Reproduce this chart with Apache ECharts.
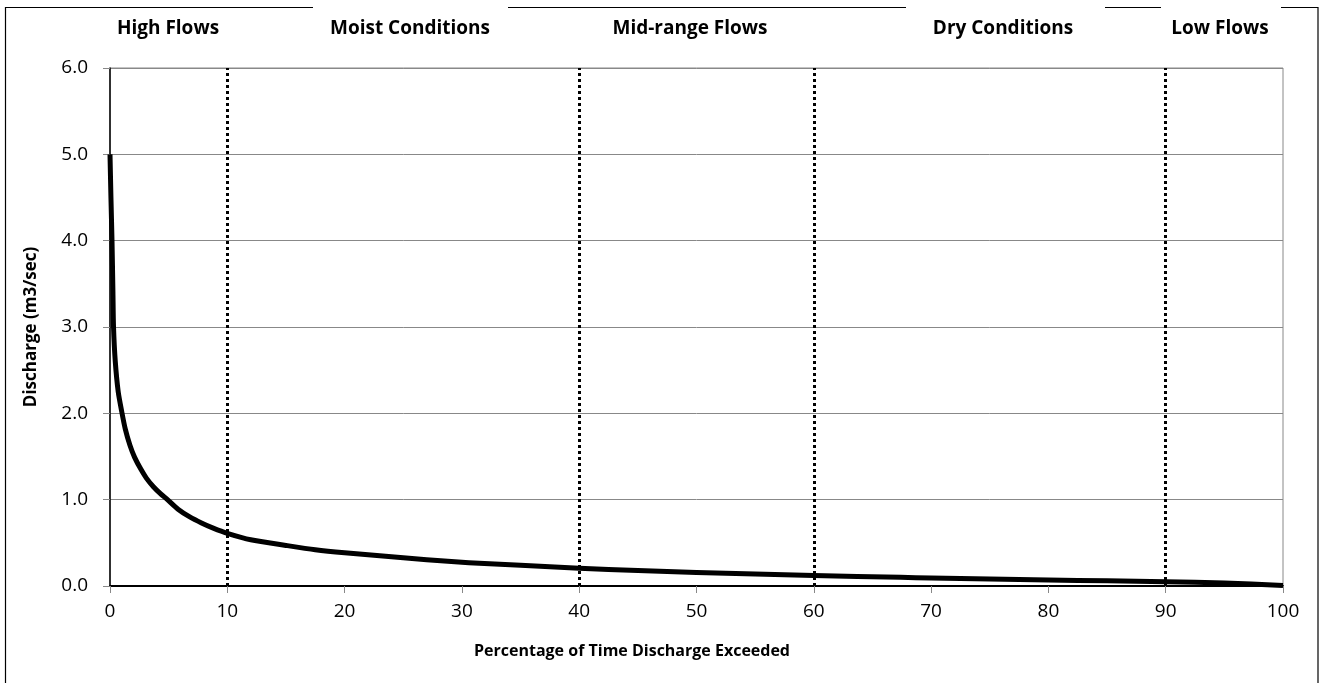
<!DOCTYPE html>
<html>
<head>
<meta charset="utf-8">
<script src="https://cdn.jsdelivr.net/npm/echarts@6/dist/echarts.min.js"></script>
<style>
  html, body { margin: 0; padding: 0; background: #fff; }
  #chart { width: 1323px; height: 683px; }
</style>
</head>
<body>
<div id="chart"></div>
<script>
// flow duration curve
const pctExceeded = [0, 0.08, 0.17, 0.25, 0.3, 0.45, 0.7, 1.0, 1.3, 1.7, 2.1, 2.6, 3.1, 3.7, 4.3, 4.9, 5.8, 6.8, 7.8, 8.8, 10, 12, 15, 17.5, 20, 24, 27, 30.6, 35, 40, 45, 50, 55, 60, 67.4, 70, 75, 80, 85, 90, 95, 100];
const discharge = [5.0, 4.5, 4.0, 3.4, 3.0, 2.6, 2.25, 2.02, 1.82, 1.63, 1.49, 1.36, 1.25, 1.15, 1.07, 1.0, 0.89, 0.80, 0.73, 0.67, 0.61, 0.535, 0.47, 0.42, 0.385, 0.34, 0.305, 0.27, 0.24, 0.205, 0.18, 0.155, 0.14, 0.123, 0.1, 0.092, 0.08, 0.07, 0.06, 0.05, 0.035, 0.005];
const zoneBreaks = [10, 40, 60, 90];
const zoneNames = ['High Flows', 'Moist Conditions', 'Mid-range Flows', 'Dry Conditions', 'Low Flows'];
const zoneLabelX = [168, 410, 690, 1003, 1220];

var font = '"Open Sans", Lato, sans-serif';
var chart = echarts.init(document.getElementById('chart'));

var points = pctExceeded.map(function (p, i) { return [p, discharge[i]]; });

var graphics = [];
// outer frame, top edge broken where the zone labels sit
var topSegs = [[5, 313], [508, 906], [1105, 1161], [1281, 1318]];
topSegs.forEach(function (s) {
  graphics.push({ type: 'line', shape: { x1: s[0], y1: 7.5, x2: s[1], y2: 7.5 }, style: { stroke: '#000', lineWidth: 1.2 } });
});
graphics.push({ type: 'line', shape: { x1: 5.5, y1: 7, x2: 5.5, y2: 690 }, style: { stroke: '#000', lineWidth: 1.2 } });
graphics.push({ type: 'line', shape: { x1: 1318, y1: 7, x2: 1318, y2: 690 }, style: { stroke: '#000', lineWidth: 1.2 } });
zoneNames.forEach(function (n, i) {
  graphics.push({
    type: 'text', x: zoneLabelX[i], y: 29,
    style: { text: n, fill: '#000', font: 'bold 19px ' + font, textAlign: 'center', textVerticalAlign: 'middle' }
  });
});
// x axis title sits a bit left of the plot centre in the original
graphics.push({
  type: 'text', x: 632, y: 651,
  style: { text: 'Percentage of Time Discharge Exceeded', fill: '#000', font: 'bold 16px ' + font, textAlign: 'center', textVerticalAlign: 'middle' }
});

chart.setOption({
  animation: false,
  backgroundColor: '#fff',
  grid: {
    left: 110, right: 40, top: 68, bottom: 97,
    show: true, borderColor: '#888', borderWidth: 1
  },
  xAxis: {
    type: 'value', min: 0, max: 100, interval: 10,
    axisLine: { show: true, lineStyle: { color: '#000', width: 2 } },
    axisTick: { show: true, length: 7, lineStyle: { color: '#888' } },
    axisLabel: { color: '#000', fontSize: 19, fontFamily: font, margin: 16 },
    splitLine: { show: false }
  },
  yAxis: {
    type: 'value', min: 0, max: 6, interval: 1,
    name: 'Discharge (m3/sec)',
    nameLocation: 'middle', nameGap: 70, nameRotate: 90,
    nameTextStyle: { color: '#000', fontSize: 17, fontWeight: 'bold', fontFamily: font },
    axisLine: { show: true, lineStyle: { color: '#000', width: 1.5 } },
    axisTick: { show: true, length: 7, lineStyle: { color: '#888' } },
    axisLabel: {
      color: '#000', fontSize: 19, fontFamily: font, margin: 22,
      formatter: function (v) { return v.toFixed(1); }
    },
    splitLine: { show: true, lineStyle: { color: '#888', width: 1 } }
  },
  graphic: graphics,
  series: [{
    type: 'line',
    data: points,
    smooth: 0.25,
    showSymbol: false,
    lineStyle: { color: '#000', width: 5, join: 'round' },
    markLine: {
      silent: true,
      symbol: ['none', 'none'],
      label: { show: false },
      lineStyle: { color: '#000', type: [3, 3], width: 3 },
      data: zoneBreaks.map(function (b) { return { xAxis: b }; })
    }
  }]
});
</script>
</body>
</html>
